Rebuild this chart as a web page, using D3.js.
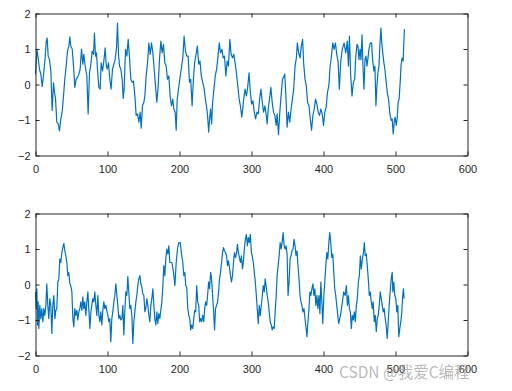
<!DOCTYPE html>
<html><head><meta charset="utf-8">
<script src="https://cdn.jsdelivr.net/npm/d3@7/dist/d3.min.js"></script>
<style>
html,body{margin:0;padding:0;background:#fff;}
svg{display:block;}
</style></head>
<body>
<script>
// ---- data (sample index, value) ----
const xTicks = [0, 100, 200, 300, 400, 500, 600];
const yTicks = [-2, -1, 0, 1, 2];
const xDomain = [0, 600];
const yDomain = [-2, 2];

const topSignal = [[0,0.29],[2,1.0],[3.7,0.75],[5.5,0.43],[7.4,0.29],[9.3,-0.06],[11,0.24],[13.4,0.75],[14.8,1.19],[16.2,1.31],[17.6,0.8],[19.4,0.7],[21.3,0.38],[23.1,-0.73],[25,0.05],[26.4,-0.22],[27.8,-0.4],[29.6,-1.06],[31.5,-1.1],[33.3,-1.31],[35.2,-0.97],[37,-0.78],[38.9,-0.32],[40.7,0.15],[42.6,0.52],[44.4,0.94],[46.3,1.08],[47.7,1.34],[49,1.08],[51,1.0],[52.8,0.52],[54.6,-0.08],[56.5,0.15],[58.3,0.2],[60.2,0.29],[62,0.43],[63.9,1.0],[65.7,0.57],[67.1,0.85],[69,0.52],[71.3,0.24],[73.1,-0.83],[75,0.33],[76.9,0.57],[78.7,0.94],[80.6,0.85],[81.9,1.45],[83.3,0.8],[84.7,0.89],[86.1,0.43],[88,-0.08],[89.8,-0.13],[91.2,0.61],[93.1,0.38],[94.9,0.66],[96.8,1.03],[98.1,0.57],[99.5,0.43],[101.4,0.61],[103.2,0.15],[105,-0.13],[106.9,0.43],[108.8,0.57],[110.6,0.7],[112.5,1.03],[113.9,1.73],[115.3,0.85],[116.7,0.52],[118.5,0.43],[120.4,0.15],[121.8,-0.39],[123.1,-0.13],[125,0.99],[126.9,0.8],[128.7,1.27],[130.6,0.75],[132.4,0.15],[134.3,0.06],[136.1,0.1],[138,-0.32],[139.8,-0.87],[141.7,-0.83],[143.5,-1.06],[145.4,-0.78],[146.8,-1.23],[148.6,-0.6],[150.5,-0.5],[151.9,-0.32],[153.7,0.24],[155.6,0.61],[157.4,1.17],[159.3,0.85],[161.1,1.17],[163,0.89],[164.8,0.43],[166.7,-0.04],[168.5,-0.5],[170.4,-0.04],[172.2,0.71],[174.1,1.22],[175.9,0.89],[177.8,1.13],[179.6,0.61],[181.5,0.52],[183.3,0.15],[185.2,0.24],[187,-0.32],[188.9,-0.6],[190.7,-0.41],[192.1,-0.69],[194,-0.78],[195.4,-1.29],[196.8,-0.41],[198.6,-0.13],[201,0.24],[203,0.52],[204.6,0.75],[206.4,1.36],[208.3,0.94],[210,0.8],[212,0.8],[213.8,0.06],[215.6,0.15],[217.5,-0.6],[219.3,0.15],[221,0.61],[223,0.85],[224.8,1.08],[226.7,0.57],[228.5,0.66],[230.3,0.24],[232.2,0.06],[234,-0.08],[235.9,-0.41],[237.7,-0.64],[239,-0.87],[240.5,-1.34],[241.8,-0.97],[243.2,-0.69],[244.6,-1.11],[246,-0.5],[247.8,-0.13],[249.7,0.24],[251.5,0.43],[253.3,0.75],[255.2,1.17],[257,0.89],[258.9,0.99],[260.7,0.75],[262.5,0.8],[264.4,0.24],[266.2,0.66],[268,0.52],[269.9,1.27],[271.7,0.85],[273.6,0.75],[275.4,0.85],[277.2,0.61],[279,0.33],[281,-0.04],[282.8,-0.41],[284.6,-0.6],[286.5,-0.92],[287.8,-0.69],[289.2,-0.41],[291,-0.13],[292.9,-0.32],[294.7,-0.08],[296.6,0.33],[298.4,-0.22],[300.2,-0.55],[302,-0.46],[303.9,-0.78],[305.7,-0.97],[307.6,-0.78],[309.4,-0.83],[311.3,-0.41],[313.1,-0.13],[315,-0.5],[316.8,-0.78],[318.6,-0.6],[320.5,-0.87],[321.8,-1.11],[323.2,-0.69],[325,-0.41],[326.9,-0.08],[328.7,-0.5],[330.6,-0.78],[332.4,-0.87],[334.3,-1.15],[335.6,-0.83],[337.5,-1.41],[339.3,-0.78],[341.1,-0.32],[343,0.15],[344.4,0.2],[346.2,0.29],[348,-0.41],[349.4,-1.2],[351.3,-0.78],[353.1,-1.06],[355,-0.69],[356.8,-0.41],[358.6,-0.13],[360.5,0.52],[362.3,0.75],[363.7,1.17],[365.5,0.89],[367.4,0.75],[369.2,1.08],[371,1.27],[372.4,0.61],[374.3,0.15],[376.1,-0.04],[377.9,-0.5],[379.8,-0.6],[381.6,-0.97],[383.4,-1.29],[385.3,-0.87],[387.1,-0.69],[389,-0.41],[390.8,-0.55],[392.6,-0.78],[394.5,-0.87],[396.3,-0.69],[398.2,-0.83],[400,-1.15],[401.8,-0.78],[403.7,-0.64],[405.5,-0.22],[407.4,-0.04],[409.2,0.52],[411,0.8],[412.9,1.17],[414.7,0.99],[416.6,1.17],[418.4,0.85],[420.2,0.66],[422,-0.13],[424,0.66],[426,0.99],[428.6,1.17],[430.9,0.89],[433,1.22],[434.6,0.52],[436,1.36],[437.8,0.24],[439.6,-0.32],[441.5,0.06],[443.3,0.15],[444.7,0.75],[446.5,1.13],[447.9,1.08],[449.3,0.7],[450.7,0.99],[452,0.7],[453.5,1.4],[454.8,0.52],[456.2,-0.13],[457.6,0.7],[459,0.8],[460.4,0.52],[461.8,0.75],[463.1,0.99],[465,1.17],[466.8,1.17],[468.2,0.7],[470,0.38],[471.4,0.52],[472.8,-0.6],[474.2,-0.04],[475.6,0.33],[477,0.52],[478.3,1.08],[479.7,1.59],[481,1.17],[482.5,0.85],[483.9,0.61],[485.3,0.43],[486.6,0.15],[488.5,-0.22],[490.3,-0.41],[492.2,-0.83],[494,-1.01],[495.4,-0.97],[496.8,-1.39],[498.2,-1.06],[499.5,-0.92],[501,-1.15],[502.3,-0.97],[503.7,-0.5],[505,-0.41],[506.5,0.06],[507.8,0.57],[509.2,0.75],[510.6,0.66],[511.5,1.17],[512.4,1.56]];

const bottomSignal = [[0,-0.21],[1,-0.68],[1.9,-0.12],[2.8,-1.14],[3.7,-0.49],[4.6,-1.24],[6,-0.59],[7.4,-0.96],[8.8,-0.68],[10.2,-1.05],[11.6,-0.68],[13,-0.87],[14.4,-0.59],[15.7,0.02],[17.1,-0.59],[18.5,-0.96],[19.9,-0.4],[21.3,-0.59],[22.7,-1.38],[24,-0.59],[25.5,-0.31],[26.9,-0.96],[28.2,-0.73],[29.6,-0.68],[31,0.07],[32.4,0.16],[33.8,0.72],[35.2,0.62],[36.6,0.9],[38,1.04],[39.4,1.16],[40.7,0.95],[42.1,0.81],[43.5,0.62],[44.9,0.25],[46.3,0.34],[47.7,0.02],[49,-0.03],[50.5,-0.21],[51.9,-0.96],[53.2,-1.19],[54.6,-0.68],[56,-0.87],[57.4,-0.73],[58.8,-1.0],[60.2,-0.77],[61.6,-0.68],[63,-0.49],[64.4,-0.73],[65.7,-0.35],[67.1,-0.68],[68.5,-0.49],[69.9,-0.87],[71.3,-0.49],[72.7,-0.21],[74,-0.68],[75.5,-1.24],[76.9,-0.77],[78.2,-0.59],[79.6,-0.4],[81,-0.49],[82.4,-0.21],[83.8,-0.59],[85.2,-0.87],[86.6,-0.31],[88,-0.87],[89.4,-1.05],[90.7,-0.77],[92.1,-1.14],[93.5,-0.73],[94.9,-0.49],[96.3,-0.68],[97.7,-0.59],[99,-0.73],[100.5,-0.87],[101.9,-1.05],[103.2,-0.96],[104.6,-1.61],[106,-0.96],[107.4,-0.77],[108.8,-0.49],[110.2,-0.31],[111.6,0.02],[113,-0.31],[114.4,-0.59],[115.7,-0.96],[117.1,-0.87],[118.5,-1.0],[120,-0.96],[121.3,-0.59],[122.7,-1.42],[124,-0.77],[125.5,-0.21],[126.9,-0.31],[128.2,0.22],[129.6,-0.21],[131,-0.68],[132.4,-0.59],[133.8,-0.87],[135.2,-1.66],[136.6,-1.05],[138,-0.77],[139.4,-0.49],[140.7,-0.31],[142.1,-0.03],[143.5,0.16],[144.9,0.25],[146.3,0.02],[147.7,-0.07],[149,-0.26],[150.5,-0.31],[151.9,-0.77],[153.2,-0.68],[154.6,-0.4],[156,-0.59],[157.4,-0.87],[158.8,-1.05],[160.2,-0.59],[161.6,-0.4],[163,-0.12],[164.4,-0.59],[165.7,-0.96],[167.1,-1.14],[168.5,-0.77],[169.9,-1.1],[171.3,-0.82],[172.7,-0.96],[174,-0.73],[175.5,-0.49],[176.9,-0.03],[178.2,0.53],[179.6,0.25],[181,0.72],[182.4,1.0],[183.8,0.86],[185.2,1.09],[186.6,0.62],[189.4,0.62],[191.7,0.34],[193.6,-0.03],[195.4,0.62],[197.2,1.0],[199,1.18],[201,1.18],[202.8,0.86],[204.6,0.62],[206,0.25],[207.4,0.34],[208.7,-0.03],[210,-0.07],[211.5,-0.68],[212.9,-0.87],[214.3,-0.96],[215.6,-1.28],[217,-1.14],[218.4,-1.24],[219.8,-0.96],[221.1,-0.73],[222.5,-0.77],[223.9,-0.03],[225.3,-0.49],[226.7,-0.59],[228,-1.05],[229.4,-0.96],[230.8,-1.05],[232.2,-0.87],[233.6,-1.05],[235,-0.68],[236.3,-0.49],[237.7,-0.59],[239,-0.31],[240.5,0.07],[241.8,-0.12],[243.2,0.34],[244.6,0.16],[246,-0.31],[247.4,-0.77],[248.7,-1.28],[250,-0.68],[251.5,-0.59],[252.9,-0.49],[254.3,-0.21],[255.6,0.16],[257,0.34],[258.4,0.62],[259.8,0.9],[261.1,1.04],[262.5,0.95],[263.9,0.9],[265.3,0.81],[266.7,0.53],[268,0.67],[269.4,0.48],[270.8,0.25],[272.2,0.07],[273.6,0.25],[275,0.62],[276.3,0.9],[277.7,0.76],[279,0.86],[280.5,1.13],[281.8,0.9],[283.2,0.76],[284.6,0.62],[286,0.81],[287.4,0.44],[288.7,0.62],[290,1.0],[291.5,1.27],[292.9,1.41],[294.3,1.09],[295.6,1.32],[297,1.18],[298.4,1.41],[299.8,0.9],[301,0.81],[302.5,0.62],[303.9,0.34],[305.3,0.07],[306.7,-0.31],[308,-0.68],[309.4,-1.1],[310.8,-0.59],[312.2,-0.87],[313.6,-0.59],[315,-0.31],[316.3,-0.03],[317.7,-0.21],[319,0.16],[320.5,-0.07],[321.8,-0.31],[323.2,-0.49],[324.6,-0.77],[326,-1.05],[327.4,-1.14],[328.7,-1.28],[330,-1.19],[331.5,-1.24],[332.9,-0.77],[334.3,-0.31],[335.6,0.25],[337,0.53],[338.4,0.81],[339.8,1.18],[341.1,1.0],[342.5,1.18],[343.9,1.46],[345.3,1.09],[346.7,1.0],[348,1.09],[349.4,0.86],[350.8,-0.31],[352.2,0.07],[353.6,0.72],[355,0.81],[356.3,0.95],[357.7,1.0],[359,1.27],[360.5,1.09],[361.8,0.81],[363.2,0.95],[364.6,0.53],[366,0.16],[367.4,-0.31],[368.7,-0.49],[370,-0.59],[371.5,-0.77],[372.9,-0.68],[374.3,-0.96],[375.6,-1.19],[377,-1.47],[378.4,-1.05],[379.8,-0.68],[381.1,-0.21],[382.5,-0.31],[383.9,-0.12],[385.3,0.02],[386.7,-0.31],[388,-0.12],[389.4,-0.59],[390.8,-0.31],[392.2,-0.68],[393.6,-0.31],[395,-0.82],[396.3,0.07],[397.7,-0.49],[399,-1.1],[400.5,-0.31],[401.8,0.07],[403.2,0.53],[404.6,0.9],[406,0.72],[407.4,1.18],[408.7,1.46],[410,1.18],[411.5,0.76],[412.9,0.86],[414.3,0.34],[415.6,-0.12],[417,-0.31],[418.4,-0.59],[419.8,-0.87],[421.1,-1.1],[424,-0.82],[426.3,-0.49],[428,-0.21],[430,-0.31],[431.8,-0.03],[433.2,-0.59],[434.6,-0.31],[436,-0.68],[437.3,-0.77],[438.7,-1.24],[440,-0.87],[441.5,-1.0],[442.9,-0.77],[444.2,-1.05],[445.6,-0.59],[447,-0.4],[448.4,0.07],[449.8,0.25],[451.2,0.81],[452.5,0.44],[454,0.72],[455.3,0.86],[456.7,1.18],[458,0.81],[459.4,0.86],[460.8,0.53],[462.2,0.16],[463.6,-0.31],[465,-0.21],[466.4,-0.49],[467.7,-0.68],[469,-0.49],[470.5,-1.05],[471.9,-0.87],[473.3,-1.33],[474.7,-0.96],[476,-0.87],[477.4,-0.59],[478.8,-0.21],[480.2,-0.4],[481.6,-0.59],[483,-0.77],[484.3,-0.68],[485.7,-0.96],[487,-1.14],[488.5,-1.52],[489.9,-1.05],[491.2,-0.59],[492.6,-0.21],[494,0.16],[495.4,0.34],[496.3,-0.21],[497.7,0.07],[499,-0.31],[500.5,-0.4],[501.8,-0.77],[503.2,-0.59],[504.6,-1.47],[506,-1.24],[507.4,-1.05],[508.8,-0.77],[510,-0.31],[511,-0.12],[512,-0.4]];

const watermark = "CSDN @我爱C编程";

// ---- layout ----
const W = 512, H = 391;
const left = 35.5, right = 467.5;
const panels = [
  {data: topSignal, top: 13.5, bottom: 155.5},
  {data: bottomSignal, top: 213.5, bottom: 355.5}
];
const axisColor = "#262626";
const lineColor = "#0072BD";
const font = "'Liberation Sans', Arial, Helvetica, sans-serif";

const svg = d3.select("body").append("svg")
  .attr("width", W).attr("height", H)
  .attr("viewBox", `0 0 ${W} ${H}`);

svg.append("rect").attr("width", W).attr("height", H).attr("fill", "#fff");

panels.forEach(p => {
  const x = d3.scaleLinear().domain(xDomain).range([left, right]);
  const y = d3.scaleLinear().domain(yDomain).range([p.bottom, p.top]);
  const g = svg.append("g");

  // line
  g.append("path")
    .datum(p.data)
    .attr("fill", "none")
    .attr("stroke", lineColor)
    .attr("stroke-width", 1.2)
    .attr("stroke-linejoin", "round")
    .attr("d", d3.line().x(d => x(d[0])).y(d => y(d[1])));

  const styleAxis = sel => {
    sel.selectAll("path.domain").attr("stroke", axisColor).attr("stroke-width", 1);
    sel.selectAll(".tick line").attr("stroke", axisColor).attr("stroke-width", 1);
    sel.selectAll(".tick text").attr("fill", axisColor)
      .attr("font-family", font).attr("font-size", 11);
  };

  g.append("g").attr("transform", `translate(0,${p.bottom})`)
    .call(d3.axisBottom(x).tickValues(xTicks).tickSizeInner(-4).tickSizeOuter(0).tickPadding(10).tickFormat(d3.format("d")))
    .call(styleAxis);
  g.append("g").attr("transform", `translate(0,${p.top})`)
    .call(d3.axisTop(x).tickValues(xTicks).tickSizeInner(-4).tickSizeOuter(0).tickFormat(""))
    .call(styleAxis);
  g.append("g").attr("transform", `translate(${left},0)`)
    .call(d3.axisLeft(y).tickValues(yTicks).tickSizeInner(-4).tickSizeOuter(0).tickPadding(5).tickFormat(d3.format("d")))
    .call(styleAxis);
  g.append("g").attr("transform", `translate(${right},0)`)
    .call(d3.axisRight(y).tickValues(yTicks).tickSizeInner(-4).tickSizeOuter(0).tickFormat(""))
    .call(styleAxis);
});

// watermark (overlaps the last tick labels, as in the reference)
svg.append("text")
  .attr("x", 339).attr("y", 378)
  .attr("font-family", "'Noto Sans CJK SC', 'Noto Sans', sans-serif")
  .attr("font-size", 15.5)
  .attr("fill", "#9a9a9a")
  .attr("fill-opacity", 0.7)
  .text(watermark);
</script>
</body></html>
